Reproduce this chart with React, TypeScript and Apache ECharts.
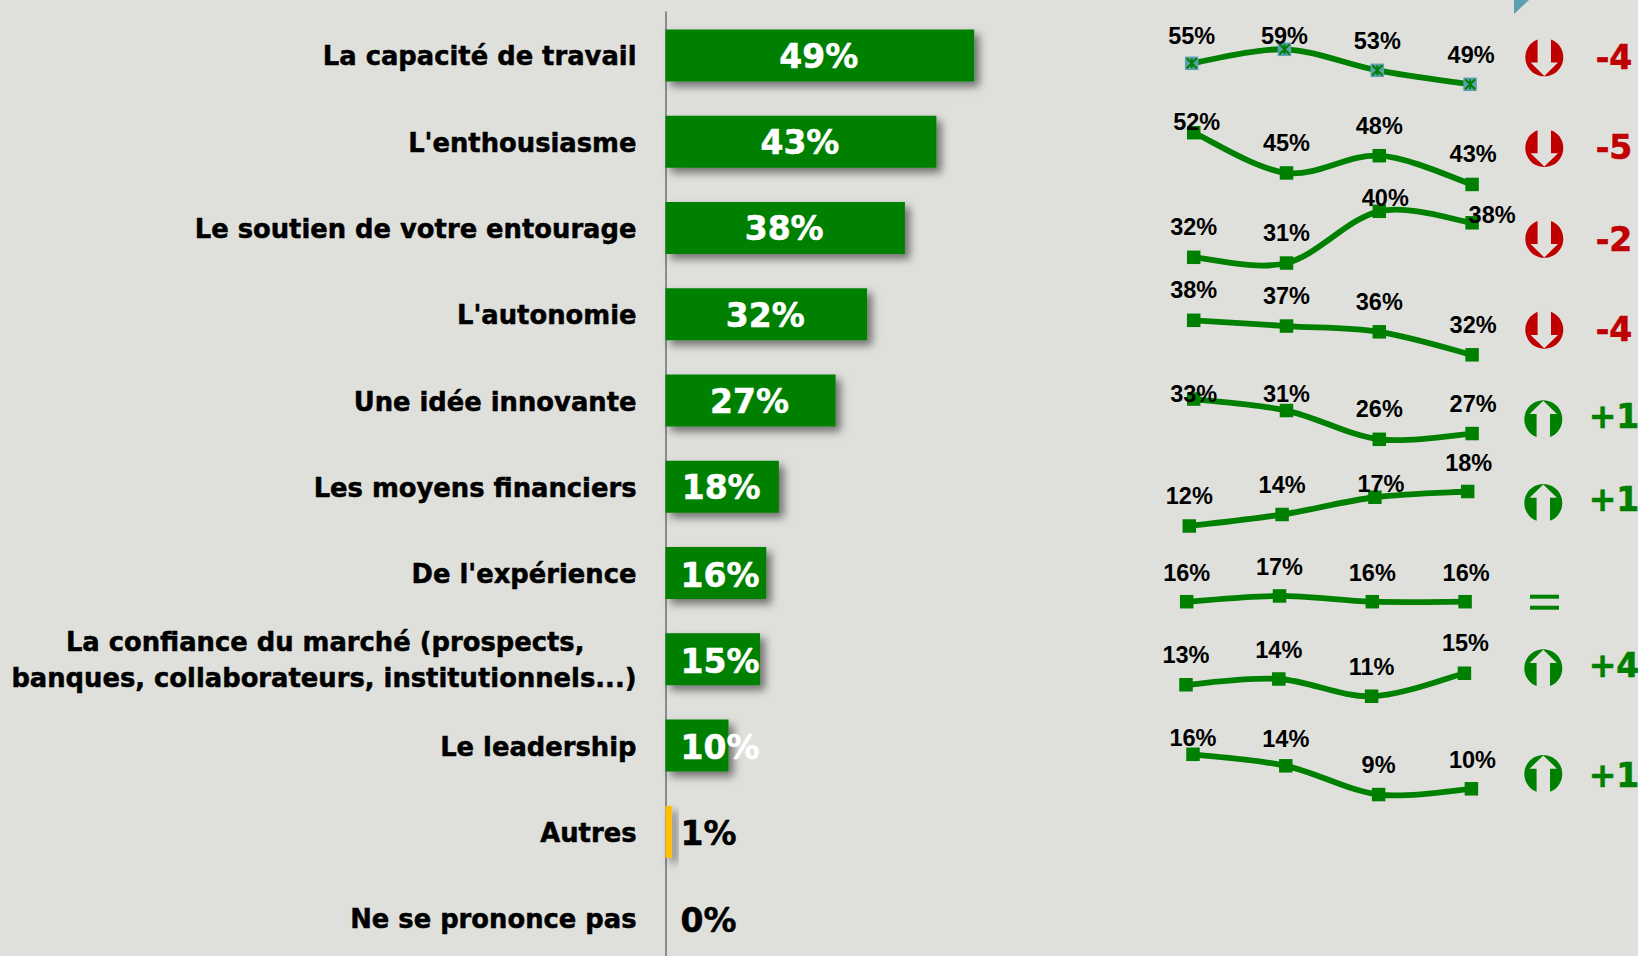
import React, { useEffect, useRef } from "react";
import * as echarts from "echarts";

const categories = [
  "La capacité de travail",
  "L'enthousiasme",
  "Le soutien de votre entourage",
  "L'autonomie",
  "Une idée innovante",
  "Les moyens financiers",
  "De l'expérience",
  "La confiance du marché (prospects,\nbanques, collaborateurs, institutionnels...)",
  "Le leadership",
  "Autres",
  "Ne se prononce pas",
];
const barValues = [49, 43, 38, 32, 27, 18, 16, 15, 10, 1, 0];
const wavePeriods = ["V1", "V2", "V3", "V4"];
const trend1 = [55, 59, 53, 49];
const trend2 = [52, 45, 48, 43];
const trend3 = [32, 31, 40, 38];
const trend4 = [38, 37, 36, 32];
const trend5 = [33, 31, 26, 27];
const trend6 = [12, 14, 17, 18];
const trend7 = [16, 17, 16, 16];
const trend8 = [13, 14, 11, 15];
const trend9 = [16, 14, 9, 10];
const trends = [trend1, trend2, trend3, trend4, trend5, trend6, trend7, trend8, trend9];
const deltas = ["-4", "-5", "-2", "-4", "+1", "+1", "=", "+4", "+1"];

const BG = "#dfe0dc";
const GREEN = "#008000";
const RED = "#c00000";
const TEAL = "#5b9fb0";
const LABEL_FONT = "DejaVu Sans";

// layout of each sparkline: left edge, baseline y, px per unit
const sparkLayout = [
  { left: 1191.7, zero: 255.8, px: 3.5 },
  { left: 1193.7, zero: 431.7, px: 5.75 },
  { left: 1193.7, zero: 441.3, px: 5.75 },
  { left: 1193.7, zero: 538.8, px: 5.75 },
  { left: 1193.7, zero: 588.8, px: 5.75 },
  { left: 1189.3, zero: 595, px: 5.75 },
  { left: 1186.7, zero: 693.7, px: 5.75 },
  { left: 1186, zero: 759.5, px: 5.75 },
  { left: 1193, zero: 846.3, px: 5.75 },
];
const labelOffsets = [
  [[0, -27], [0, -13], [0, -29], [1, -29]],
  [[3, -11], [0, -30], [0, -30], [1, -30]],
  [[0, -30], [0, -30], [6, -13], [20, -8]],
  [[0, -30], [0, -30], [0, -30], [1, -30]],
  [[0, -5], [0, -17], [0, -30], [1, -30]],
  [[0, -30], [0, -30], [6, -13], [1, -29]],
  [[0, -29], [0, -29], [0, -29], [1, -29]],
  [[0, -30], [0, -29], [0, -29], [1, -30]],
  [[0, -16], [0, -27], [0, -30], [1, -29]],
];
const iconLayout = [
  [1544.3, 57.3], [1544.3, 148], [1544.3, 238.8], [1544.3, 329.7],
  [1543.3, 419.3], [1543.3, 503], [1544.3, 602], [1543.3, 668.3], [1543.3, 774],
];
const deltaY = [57.3, 147.7, 239, 329, 416, 499.3, 602, 665, 775];

const SPARK_W = 278.4;
const SPARK_MAX = 70;

// Spreadsheet-style smoothing: one bezier segment per pair of neighbouring points.
function smoothSegment(values: number[]) {
  return (params: any, api: any) => {
    const i = params.dataIndex;
    if (i >= values.length - 1) return null;
    const at = (k: number) => {
      const c = Math.max(0, Math.min(values.length - 1, k));
      return api.coord([c, values[c]]);
    };
    const p0 = at(i - 1);
    const p1 = at(i);
    const p2 = at(i + 1);
    const p3 = at(i + 2);
    return {
      type: "bezierCurve",
      shape: {
        x1: p1[0],
        y1: p1[1],
        x2: p2[0],
        y2: p2[1],
        cpx1: p1[0] + (p2[0] - p0[0]) / 6,
        cpy1: p1[1] + (p2[1] - p0[1]) / 6,
        cpx2: p2[0] - (p3[0] - p1[0]) / 6,
        cpy2: p2[1] - (p3[1] - p1[1]) / 6,
      },
      style: { fill: "none", stroke: GREEN, lineWidth: 5.8 },
    };
  };
}

function buildOption() {
  const grids: any[] = [{ left: 665.5, top: 12.3, width: 630, height: 949 }];
  const xAxes: any[] = [{ type: "value", min: 0, max: 100, show: false, gridIndex: 0 }];
  const catText = {
    fontFamily: LABEL_FONT,
    fontWeight: "bold",
    fontSize: 25.8,
    lineHeight: 36,
    color: "#000",
    textBorderColor: "#000",
    textBorderWidth: 0.5,
  };
  const yAxes: any[] = [
    {
      type: "category",
      inverse: true,
      gridIndex: 0,
      data: categories,
      offset: 1,
      axisTick: { show: false },
      axisLine: { show: true, lineStyle: { color: "#8c8c8c", width: 2 } },
      splitLine: { show: false },
      axisLabel: {
        margin: 28,
        interval: 0,
        align: "right",
        padding: [2, 0, 0, 0],
        ...catText,
        formatter: (v: string) => {
          const parts = v.split("\n");
          return parts.length > 1 ? `{first|${parts[0]}}\n{plain|${parts[1]}}` : v;
        },
        rich: {
          first: { ...catText, padding: [0, 52, 0, 0] },
          plain: { ...catText },
        },
      },
    },
  ];

  const series: any[] = [
    {
      type: "bar",
      xAxisIndex: 0,
      yAxisIndex: 0,
      barWidth: 52,
      silent: true,
      data: barValues.map((v, i) => {
        const small = i >= 6;
        const dark = i >= 9;
        const col = dark ? "#000" : "#fff";
        return {
          value: v,
          itemStyle: {
            color: i === 9 ? "#ffc000" : GREEN,
            shadowBlur: 9,
            shadowOffsetX: 5,
            shadowOffsetY: 5,
            shadowColor: "rgba(0,0,0,0.5)",
          },
          label: {
            show: true,
            position: small ? [15, 28] : "inside",
            offset: small ? [0, 0] : [-1, 1],
            align: small ? "left" : "center",
            verticalAlign: "middle",
            formatter: "{c}%",
            color: col,
            textBorderColor: col,
            textBorderWidth: 0.5,
            fontFamily: LABEL_FONT,
            fontWeight: "bold",
            fontSize: 33,
          },
        };
      }),
    },
  ];

  trends.forEach((values, r) => {
    const g = r + 1;
    const lay = sparkLayout[r];
    grids.push({
      left: lay.left,
      top: lay.zero - SPARK_MAX * lay.px,
      width: SPARK_W,
      height: SPARK_MAX * lay.px,
    });
    xAxes.push({ type: "category", gridIndex: g, boundaryGap: false, data: wavePeriods, show: false });
    yAxes.push({ type: "value", gridIndex: g, min: 0, max: SPARK_MAX, show: false });
    const special = r === 0;
    series.push({
      type: "custom",
      xAxisIndex: g,
      yAxisIndex: g,
      silent: true,
      z: 2,
      renderItem: smoothSegment(values),
      encode: { x: 0, y: 1 },
      data: values.map((v, i) => [i, v]),
    });
    series.push({
      type: "line",
      xAxisIndex: g,
      yAxisIndex: g,
      silent: true,
      z: 3,
      symbol: "rect",
      symbolSize: 13.5,
      showAllSymbol: true,
      clip: false,
      lineStyle: { width: 0, opacity: 0 },
      itemStyle: { color: special ? TEAL : GREEN },
      data: values.map((v, i) => ({
        value: v,
        label: {
          show: true,
          position: "inside",
          offset: labelOffsets[r][i],
          formatter: "{c}%",
          color: "#000",
          fontFamily: "Liberation Sans",
          fontWeight: "bold",
          fontSize: 23.5,
        },
      })),
    });
    if (special) {
      series.push({
        type: "line",
        xAxisIndex: g,
        yAxisIndex: g,
        silent: true,
        z: 4,
        symbol: "path://M0 0L10 10M10 0L0 10M5 0L5 10",
        symbolSize: 10,
        showAllSymbol: true,
        clip: false,
        lineStyle: { width: 0, opacity: 0 },
        itemStyle: { color: "none", borderColor: GREEN, borderWidth: 2 },
        data: values,
      });
    }
  });

  const graphic: any[] = [
    { type: "polygon", silent: true, shape: { points: [[1514, 0], [1529, 0], [1514, 14]] }, style: { fill: TEAL } },
  ];
  deltas.forEach((d, r) => {
    const [cx, cy] = iconLayout[r];
    if (d === "=") {
      graphic.push({ type: "rect", silent: true, shape: { x: 1530, y: 594.7, width: 29, height: 4 }, style: { fill: GREEN } });
      graphic.push({ type: "rect", silent: true, shape: { x: 1530, y: 605.7, width: 29, height: 4 }, style: { fill: GREEN } });
      return;
    }
    const up = d[0] === "+";
    const col = up ? GREEN : RED;
    const s = up ? -1 : 1;
    graphic.push({ type: "circle", silent: true, shape: { cx, cy, r: 19 }, style: { fill: col } });
    graphic.push({
      type: "polygon",
      silent: true,
      shape: {
        points: [
          [cx - 6.7, cy - s * 19.5],
          [cx + 6.7, cy - s * 19.5],
          [cx + 6.7, cy + s * 5.3],
          [cx + 13.7, cy + s * 5.3],
          [cx, cy + s * 18.6],
          [cx - 13.7, cy + s * 5.3],
          [cx - 6.7, cy + s * 5.3],
        ],
      },
      style: { fill: BG },
    });
    graphic.push({
      type: "text",
      silent: true,
      style: {
        x: 1614,
        y: deltaY[r],
        text: d,
        fill: col,
        stroke: col,
        lineWidth: 0.6,
        align: "center",
        verticalAlign: "middle",
        fontFamily: LABEL_FONT,
        fontWeight: "bold",
        fontSize: 33,
      },
    });
  });

  return {
    animation: false,
    backgroundColor: BG,
    grid: grids,
    xAxis: xAxes,
    yAxis: yAxes,
    series,
    graphic,
  };
}

export default function App() {
  const ref = useRef<HTMLDivElement>(null);
  useEffect(() => {
    const chart = echarts.init(ref.current!, undefined, { renderer: "svg" });
    chart.setOption(buildOption() as any);
    return () => chart.dispose();
  }, []);
  return (
    <div style={{ position: "fixed", left: 0, top: 0, width: 1638, height: 956, overflow: "hidden" }}>
      <div ref={ref} style={{ width: 1638, height: 975 }} />
    </div>
  );
}
